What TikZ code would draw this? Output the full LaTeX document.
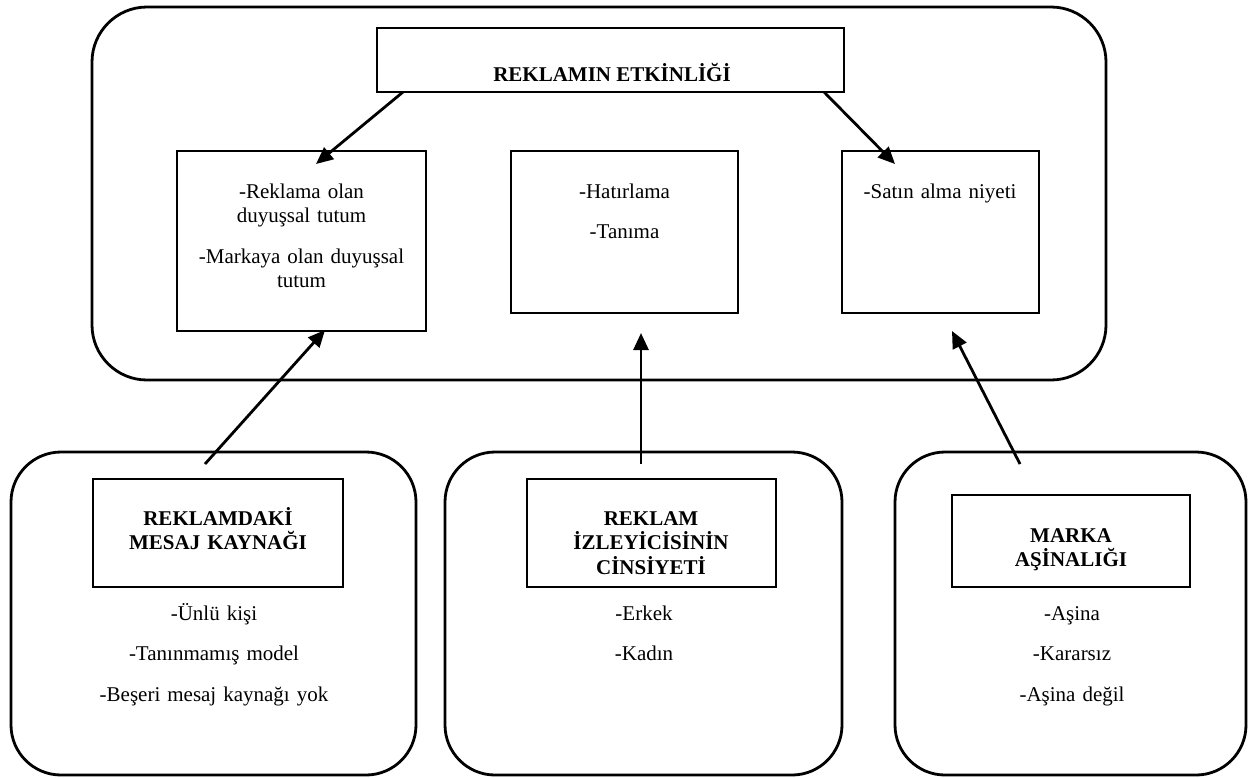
\documentclass[tikz,border=0pt]{standalone}
\usepackage{fontspec}
\setmainfont{Liberation Serif}
\usetikzlibrary{arrows.meta}
\begin{document}
\begin{tikzpicture}[x=1pt,y=-1pt,
  outerbox/.style={draw,line width=2.8pt,rounded corners=55pt,inner sep=0pt},
  lowbox/.style={draw,line width=2.8pt,rounded corners=50pt,inner sep=0pt},
  innerbox/.style={draw,line width=1.3pt,inner sep=0pt},
  txt/.style={font=\fontsize{21}{24.5}\selectfont,align=center,inner sep=0pt,anchor=base},
  btxt/.style={txt,font=\fontsize{21}{24.5}\selectfont\bfseries},
  arr/.style={line width=2.8pt,-{Triangle[length=17pt,width=15pt]}}
]
\useasboundingbox (0,0) rectangle (1249,777);

% top group
\node[outerbox,minimum width=1014pt,minimum height=373pt] (top) at (599,193.5) {};
\node[innerbox,minimum width=467pt,minimum height=64pt] (title) at (610.5,60) {};
\node[innerbox,minimum width=249pt,minimum height=180pt] (boxL) at (301.5,241) {};
\node[innerbox,minimum width=227pt,minimum height=162pt] (boxM) at (624.5,232) {};
\node[innerbox,minimum width=197pt,minimum height=162pt] (boxR) at (940.5,232) {};

\node[btxt] (ttitle) at (612,81) {REKLAMIN ETKİNLİĞİ};
\node[txt,text width=240pt] (tL) at (301.5,198) {-Reklama olan\\duyuşsal tutum\\[16pt]-Markaya olan duyuşsal\\tutum};
\node[txt,text width=220pt] (tM) at (624.5,198) {-Hatırlama\\[16pt]-Tanıma};
\node[txt,text width=190pt] (tR) at (940,198) {-Satın alma niyeti};

% bottom groups
\node[lowbox,minimum width=405pt,minimum height=323pt] (lowL) at (213.5,613.5) {};
\node[lowbox,minimum width=397pt,minimum height=323pt] (lowM) at (643.5,613.5) {};
\node[lowbox,minimum width=351pt,minimum height=323pt] (lowR) at (1070.5,613.5) {};

\node[innerbox,minimum width=250pt,minimum height=108pt] (inL) at (218,533) {};
\node[innerbox,minimum width=249pt,minimum height=108pt] (inM) at (651.5,533) {};
\node[innerbox,minimum width=238pt,minimum height=92pt] (inR) at (1071,541) {};

\node[btxt,text width=240pt] (bLt) at (218,525) {REKLAMDAKİ\\MESAJ KAYNAĞI};
\node[btxt,text width=240pt] (bMt) at (651,525) {REKLAM\\İZLEYİCİSİNİN\\CİNSİYETİ};
\node[btxt,text width=230pt] (bRt) at (1071,542) {MARKA\\AŞİNALIĞI};

\node[txt,text width=300pt] (bLl) at (214,620) {-Ünlü kişi\\[16pt]-Tanınmamış model\\[16pt]-Beşeri mesaj kaynağı yok};
\node[txt,text width=200pt] (bMl) at (644,620) {-Erkek\\[16pt]-Kadın};
\node[txt,text width=200pt] (bRl) at (1072,620) {-Aşina\\[16pt]-Kararsız\\[16pt]-Aşina değil};

% connectors
\coordinate (a1s) at (403,92);  \coordinate (a1e) at (316,164);
\coordinate (a2s) at (824,92);  \coordinate (a2e) at (895,164);
\coordinate (b1s) at (205,464); \coordinate (b1e) at (325,330);
\coordinate (b2s) at (641,464); \coordinate (b2e) at (641,333);
\coordinate (b3s) at (1020,464); \coordinate (b3e) at (952,331);

\draw[arr] (a1s) -- (a1e);
\draw[arr] (a2s) -- (a2e);
\draw[arr] (b1s) -- (b1e);
\draw[arr] (b2s) -- (b2e);
\draw[arr] (b3s) -- (b3e);
\end{tikzpicture}
\end{document}
